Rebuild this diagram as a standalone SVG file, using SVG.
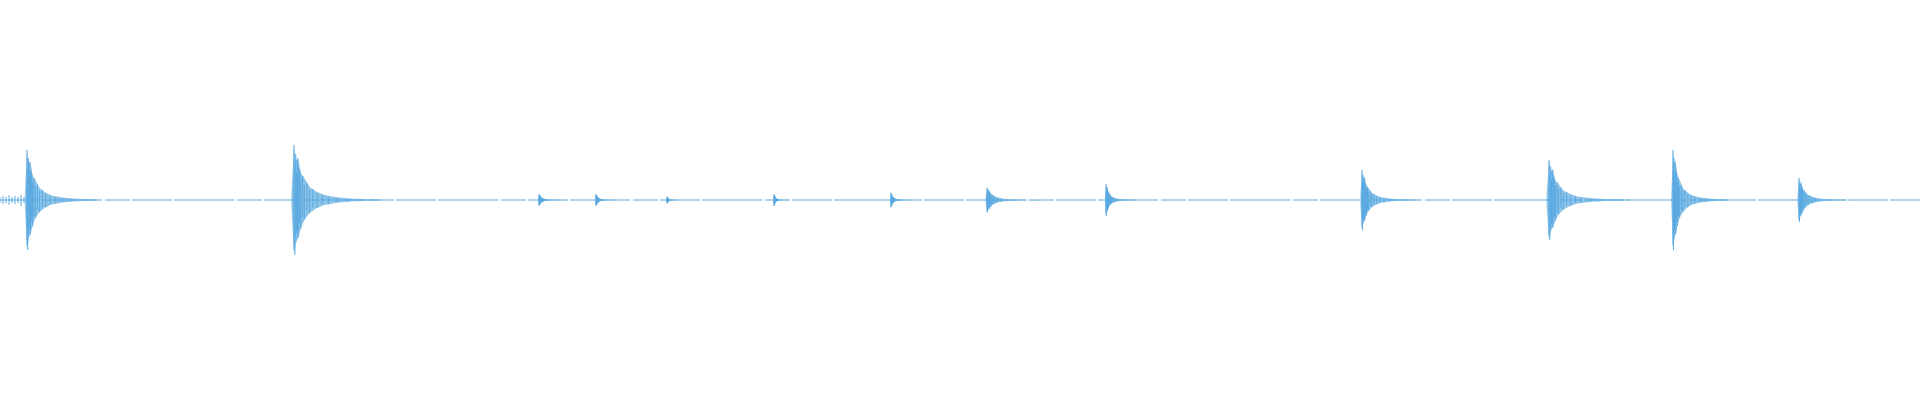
<svg xmlns="http://www.w3.org/2000/svg" xmlns:xlink="http://www.w3.org/1999/xlink" width="1920" height="400" viewBox="0 0 1920 400">
<style>
.w{stroke:#5aa9e0;fill:none;stroke-width:1}
.e{fill:#5aa9e0;opacity:0.7}
</style>
<defs>
<g id="burst">
<path class="e" d="M-3,-6 L0,-50 L2,-36 5,-38 8,-24 12,-20 18,-12 25,-8 35,-4.5 50,-2.5 70,-1.2 100,-0.5 L100,0.5 70,1.2 50,2.5 35,4.5 25,8 18,12 12,18 8,26 5,34 2,40 0,50 -3,6Z"/>
<path class="w" vector-effect="non-scaling-stroke" d="M0,-50V45M1,-30V50M2,-42V35M3,-25V30M4,-38V28M5,-30V34M6,-28V22M7,-26V20M8,-18V26M10,-22V16M12,-14V18M15,-15V10M18,-9V12M22,-10V7M27,-6V7M33,-5V4M40,-3V4M50,-2V2M62,-1V1.5M75,-1V1M90,-0.5V0.5"/>
</g>
</defs>
<g id="baseline"><line class="w" x1="0" y1="200" x2="1920" y2="200" stroke-dasharray="40 2 60 3 25 2"/></g>
<g id="prenoise"><path class="w" d="M0,197V203M3,196V204M6,197V203M9,195V205M12,197V203M15,196V204M18,197V203M21,195V206M24,197V203"/></g>
<g id="bursts">
<use xlink:href="#burst" transform="translate(27,200) scale(0.7,1)"/>
<use xlink:href="#burst" transform="translate(294,200) scale(0.86,1.1)"/>
<use xlink:href="#burst" transform="translate(539,200) scale(0.25,0.12)"/>
<use xlink:href="#burst" transform="translate(596,200) scale(0.2,0.12)"/>
<use xlink:href="#burst" transform="translate(667,200) scale(0.15,0.07)"/>
<use xlink:href="#burst" transform="translate(774,200) scale(0.15,0.12)"/>
<use xlink:href="#burst" transform="translate(891,200) scale(0.2,0.15)"/>
<use xlink:href="#burst" transform="translate(987,200) scale(0.5,0.25)"/>
<use xlink:href="#burst" transform="translate(1106,200) scale(0.3,0.32)"/>
<use xlink:href="#burst" transform="translate(1362,200) scale(0.55,0.6)"/>
<use xlink:href="#burst" transform="translate(1549,200) scale(0.8,0.8)"/>
<use xlink:href="#burst" transform="translate(1673,200) scale(0.55,1)"/>
<use xlink:href="#burst" transform="translate(1799,200) scale(0.5,0.44)"/>
</g>
</svg>
